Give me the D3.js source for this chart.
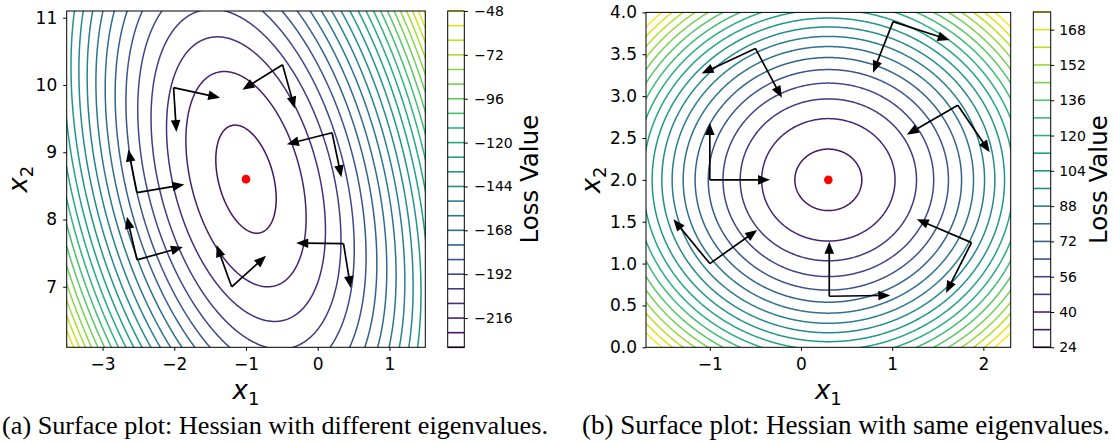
<!DOCTYPE html>
<html><head><meta charset="utf-8">
<script src="https://cdn.jsdelivr.net/npm/d3@7"></script>
<style>body{margin:0;background:#fff}svg{display:block}</style>
</head><body>
<svg id="c" width="1114" height="443"></svg>
<script>
// ---------------- data ----------------
// Panel (a): Hessian with different eigenvalues
const xDomainA = [-3.5, 1.5];
const yDomainA = [6.1, 11.1];
const centerA = [-1.0, 8.6];
const hessCoefA = [17.5, 3.3, 4.8];     // a, b, d of a*dx^2 + 2b*dx*dy + d*dy^2
const minLossA = -226.7;
const levelsA = [-232,-224,-216,-208,-200,-192,-184,-176,-168,-160,-152,-144,-136,-128,-120,-112,-104,-96,-88,-80,-72,-64,-56,-48];
const xTicksA = [-3, -2, -1, 0, 1];
const yTicksA = [7, 8, 9, 10, 11];
const cbTicksA = [-216, -192, -168, -144, -120, -96, -72, -48];
// each: origin x, origin y, tip1 x, tip1 y, tip2 x, tip2 y
const arrowsA = [
  [-2.01, 9.96, -1.36, 9.81, -1.97, 9.30],
  [-0.49, 10.30, -1.05, 9.93, -0.32, 9.65],
  [0.20, 9.29, -0.43, 9.12, 0.33, 8.63],
  [-2.52, 8.40, -1.86, 8.52, -2.64, 9.04],
  [-2.52, 7.40, -1.88, 7.59, -2.66, 8.04],
  [-1.20, 7.00, -0.72, 7.46, -1.41, 7.62],
  [0.36, 7.64, -0.30, 7.65, 0.46, 6.98]
];
// Panel (b): Hessian with same eigenvalues
const xDomainB = [-1.7, 2.3];
const yDomainB = [0.0, 4.0];
const centerB = [0.3, 2.0];
const hessCoefB = [20, 0, 20];
const minLossB = 29.3;
const levelsB = [24,32,40,48,56,64,72,80,88,96,104,112,120,128,136,144,152,160,168,176];
const xTicksB = [-1, 0, 1, 2];
const yTicksB = [0.0, 0.5, 1.0, 1.5, 2.0, 2.5, 3.0, 3.5, 4.0];
const cbTicksB = [24, 40, 56, 72, 88, 104, 120, 136, 152, 168];
const arrowsB = [
  [-0.50, 3.57, -1.09, 3.27, -0.21, 2.98],
  [1.01, 3.89, 1.63, 3.67, 0.79, 3.28],
  [1.72, 2.89, 1.16, 2.54, 2.07, 2.33],
  [-1.00, 2.00, -0.34, 2.00, -1.00, 2.68],
  [-1.00, 1.00, -0.48, 1.40, -1.40, 1.53],
  [0.31, 0.61, 0.98, 0.62, 0.31, 1.26],
  [1.87, 1.25, 1.27, 1.53, 1.59, 0.65]
];
const captionA = "(a) Surface plot: Hessian with different eigenvalues.";
const captionB = "(b) Surface plot: Hessian with same eigenvalues.";
const colorbarLabel = "Loss Value";

// ---------------- drawing ----------------
const svg = d3.select('#c');
const SANS = "DejaVu Sans";

function quad(coef, c, fmin) {
  return (x, y) => { const dx = x - c[0], dy = y - c[1];
    return fmin + coef[0]*dx*dx + 2*coef[1]*dx*dy + coef[2]*dy*dy; };
}

function arrow(g, x0, y0, x1, y1) {
  const dx = x1 - x0, dy = y1 - y0, L = Math.hypot(dx, dy), ux = dx / L, uy = dy / L;
  const hl = 12, hw = 4.8;
  const bx = x1 - ux * hl, by = y1 - uy * hl;
  g.append('line').attr('x1', x0).attr('y1', y0).attr('x2', bx + ux * 3).attr('y2', by + uy * 3)
    .attr('stroke', '#000').attr('stroke-width', 1.7);
  g.append('polygon').attr('points', [[x1, y1], [bx - uy * hw, by + ux * hw], [bx + uy * hw, by - ux * hw]].map(p => p.join(',')).join(' '))
    .attr('fill', '#000');
}

function styleAxis(g, size) {
  g.select('.domain').remove();
  g.attr('font-family', SANS).attr('font-size', size);
  g.selectAll('line').attr('stroke', '#000').attr('stroke-width', 1);
  g.selectAll('text').attr('fill', '#000');
}

function subLabel(g, x, y, sub, rotate) {
  const t = g.append('text').attr('font-family', SANS).attr('font-size', 26).attr('text-anchor', 'middle')
    .attr('transform', `translate(${x},${y})` + (rotate ? ' rotate(-90)' : ''));
  t.append('tspan').attr('font-style', 'italic').text('x');
  t.append('tspan').attr('font-size', 18).attr('dy', 6).text(sub);
}

function panel(cfg) {
  const { id, x0, x1, y0, y1, xDom, yDom, f, levels, xTicks, yTicks, yFmt, arrows, center,
          cbx0, cbx1, cby0, cby1, cbTicks, cbPad, yPad, ylabX, lossX } = cfg;
  const xs = d3.scaleLinear().domain(xDom).range([x0, x1]);
  const ys = d3.scaleLinear().domain(yDom).range([y1, y0]);
  svg.append('clipPath').attr('id', id).append('rect')
    .attr('x', x0).attr('y', y0).attr('width', x1 - x0).attr('height', y1 - y0);

  const n = 420;
  const padx = (xDom[1] - xDom[0]) * 0.03, pady = (yDom[1] - yDom[0]) * 0.03;
  const gx0 = xDom[0] - padx, gx1 = xDom[1] + padx, gy0 = yDom[0] - pady, gy1 = yDom[1] + pady;
  const sx = (gx1 - gx0) / (n - 1), sy = (gy1 - gy0) / (n - 1);
  const vals = new Float64Array(n * n);
  for (let j = 0; j < n; j++) for (let i = 0; i < n; i++) vals[j * n + i] = f(gx0 + i * sx, gy0 + j * sy);
  const cs = d3.contours().size([n, n]).thresholds(levels)(vals);
  const path = d3.geoPath(d3.geoTransform({ point(x, y) {
    this.stream.point(xs(gx0 + (x - 0.5) * sx), ys(gy0 + (y - 0.5) * sy)); } }));
  const lo = levels[0], hi = levels[levels.length - 1];
  const color = v => d3.interpolateViridis((v - lo) / (hi - lo));
  const g = svg.append('g').attr('clip-path', `url(#${id})`);
  g.selectAll('path').data(cs).join('path').attr('d', path).attr('fill', 'none')
    .attr('stroke', d => color(d.value)).attr('stroke-width', 1.5);

  // arrows
  const ga = svg.append('g');
  arrows.forEach(a => {
    arrow(ga, xs(a[0]), ys(a[1]), xs(a[2]), ys(a[3]));
    arrow(ga, xs(a[0]), ys(a[1]), xs(a[4]), ys(a[5]));
  });
  svg.append('circle').attr('cx', xs(center[0])).attr('cy', ys(center[1])).attr('r', 4.3).attr('fill', '#ff0000');

  // frame
  svg.append('rect').attr('x', x0).attr('y', y0).attr('width', x1 - x0).attr('height', y1 - y0)
    .attr('fill', 'none').attr('stroke', '#000').attr('stroke-width', 1);
  // axes
  svg.append('g').attr('transform', `translate(0,${y1})`)
    .call(d3.axisBottom(xs).tickValues(xTicks).tickSize(3.5).tickPadding(7).tickFormat(d3.format('d')))
    .call(g => styleAxis(g, 17));
  svg.append('g').attr('transform', `translate(${x0},0)`)
    .call(d3.axisLeft(ys).tickValues(yTicks).tickSize(3.5).tickPadding(yPad).tickFormat(d3.format(yFmt)))
    .call(g => styleAxis(g, 17));
  subLabel(svg, (x0 + x1) / 2, 399, '1', false);
  subLabel(svg, ylabX, (y0 + y1) / 2, '2', true);

  // colorbar
  const cbs = d3.scaleLinear().domain([lo, hi]).range([cby1, cby0]);
  svg.append('g').selectAll('line').data(levels).join('line')
    .attr('x1', cbx0).attr('x2', cbx1).attr('y1', d => cbs(d)).attr('y2', d => cbs(d))
    .attr('stroke', d => color(d)).attr('stroke-width', 1.6);
  svg.append('rect').attr('x', cbx0).attr('y', cby0).attr('width', cbx1 - cbx0).attr('height', cby1 - cby0)
    .attr('fill', 'none').attr('stroke', '#000').attr('stroke-width', 1);
  svg.append('g').attr('transform', `translate(${cbx1},0)`)
    .call(d3.axisRight(cbs).tickValues(cbTicks).tickSize(3.5).tickPadding(cbPad).tickFormat(d3.format('d')))
    .call(g => styleAxis(g, 14));
  svg.append('text').attr('font-family', SANS).attr('font-size', 24.5).attr('text-anchor', 'middle')
    .attr('transform', `translate(${lossX},${(cby0 + cby1) / 2}) rotate(-90)`).text(colorbarLabel);
}

panel({ id: 'clipA', x0: 66.7, x1: 425.3, y0: 11, y1: 347.3, xDom: xDomainA, yDom: yDomainA,
  f: quad(hessCoefA, centerA, minLossA), levels: levelsA, xTicks: xTicksA, yTicks: yTicksA, yFmt: 'd',
  arrows: arrowsA, center: centerA, cbx0: 447.7, cbx1: 464.3, cby0: 11, cby1: 347.3, cbTicks: cbTicksA,
  cbPad: 6.5, yPad: 6, ylabX: 27, lossX: 537.5 });
panel({ id: 'clipB', x0: 646, x1: 1010.7, y0: 12.4, y1: 347.3, xDom: xDomainB, yDom: yDomainB,
  f: quad(hessCoefB, centerB, minLossB), levels: levelsB, xTicks: xTicksB, yTicks: yTicksB, yFmt: '.1f',
  arrows: arrowsB, center: centerB, cbx0: 1033.3, cbx1: 1050.7, cby0: 12.0, cby1: 347.3, cbTicks: cbTicksB,
  cbPad: 5, yPad: 5.5, ylabX: 600, lossX: 1107 });

// captions
const SERIF = "Liberation Serif";
const capB = svg.append('text').attr('font-family', SERIF).attr('font-size', 20).attr('x', 582).attr('y', 434).text(captionB);
const fs = 20 * 528 / capB.node().getComputedTextLength();
capB.attr('font-size', fs);
const capA = svg.append('text').attr('font-family', SERIF).attr('font-size', fs).attr('text-anchor', 'end')
  .attr('x', 548).attr('y', 434).text(captionA);
const wA = capA.node().getComputedTextLength();
if (wA > 546) capA.attr('font-size', fs * 546 / wA);
</script>
</body></html>
